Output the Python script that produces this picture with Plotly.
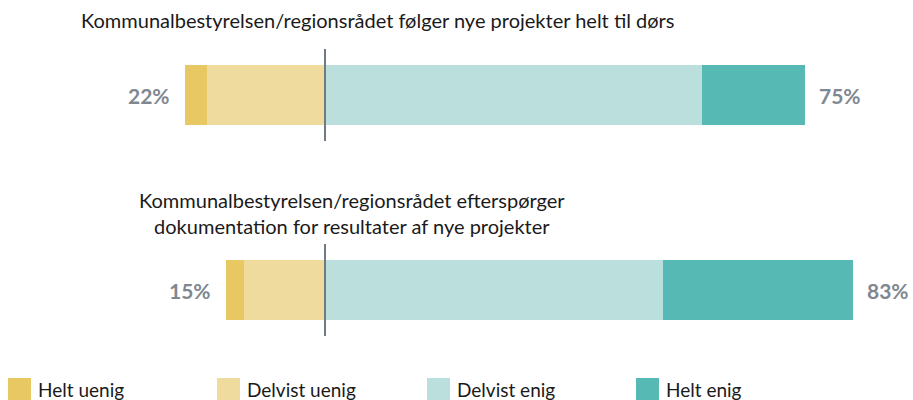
import plotly.graph_objects as go

W, H = 913, 400

questions = [
    "Kommunalbestyrelsen/regionsrådet følger nye projekter helt til dørs",
    "Kommunalbestyrelsen/regionsrådet efterspørger<br>dokumentation for resultater af nye projekter",
]
series_names = ["Helt uenig", "Delvist uenig", "Delvist enig", "Helt enig"]
helt_uenig = [3.5, 2.8]
delvist_uenig = [18.4, 12.6]
delvist_enig = [58.9, 52.8]
helt_enig = [16.1, 29.7]
disagree_labels = ["22%", "15%"]
agree_labels = ["75%", "83%"]

colors = ["#E8C862", "#EFDB9E", "#BBDFDD", "#57B9B3"]
label_color = "#7F8891"
font_family = "Lato, 'Open Sans', sans-serif"

ypos = list(range(len(questions)))

# pixel mapping helpers (margins are zero)
center_px = 325.0
px_per_pct = 6.4
x_range = [-center_px / px_per_pct, (W - center_px) / px_per_pct]
row0_px, row_gap_px = 95.0, 195.0
y_range = [(H - row0_px) / row_gap_px, -row0_px / row_gap_px]
bar_w = 60.0 / row_gap_px

fig = go.Figure()
# negative side: nearest-zero first
fig.add_trace(go.Bar(y=ypos, x=[-v for v in delvist_uenig], orientation="h",
                     marker=dict(color=colors[1], line=dict(width=0)), width=bar_w,
                     name=series_names[1], showlegend=False, hoverinfo="skip"))
fig.add_trace(go.Bar(y=ypos, x=[-v for v in helt_uenig], orientation="h",
                     marker=dict(color=colors[0], line=dict(width=0)), width=bar_w,
                     name=series_names[0], showlegend=False, hoverinfo="skip"))
fig.add_trace(go.Bar(y=ypos, x=delvist_enig, orientation="h",
                     marker=dict(color=colors[2], line=dict(width=0)), width=bar_w,
                     name=series_names[2], showlegend=False, hoverinfo="skip"))
fig.add_trace(go.Bar(y=ypos, x=helt_enig, orientation="h",
                     marker=dict(color=colors[3], line=dict(width=0)), width=bar_w,
                     name=series_names[3], showlegend=False, hoverinfo="skip"))

annotations = []
shapes = []
line_half = 46.0 / row_gap_px
for i, y in enumerate(ypos):
    dis = helt_uenig[i] + delvist_uenig[i]
    agr = delvist_enig[i] + helt_enig[i]
    annotations.append(dict(x=-dis, y=y, xref="x", yref="y", text=disagree_labels[i],
                            showarrow=False, xanchor="right", yanchor="middle", xshift=-13,
                            font=dict(family=font_family, size=21, color=label_color, weight="bold")))
    annotations.append(dict(x=agr, y=y, xref="x", yref="y", text=agree_labels[i],
                            showarrow=False, xanchor="left", yanchor="middle", xshift=12,
                            font=dict(family=font_family, size=21, color=label_color, weight="bold")))
    shapes.append(dict(type="line", xref="x", yref="y", x0=0, x1=0,
                       y0=y - line_half, y1=y + line_half,
                       line=dict(color="#6F7A84", width=2), layer="above"))

# question titles
title_centers_px = [(377, 20), (352, 213)]
for q, (cx, cy) in zip(questions, title_centers_px):
    annotations.append(dict(x=cx / W, y=1 - cy / H, xref="paper", yref="paper", text=q,
                            showarrow=False, xanchor="center", yanchor="middle",
                            font=dict(family=font_family, size=20, color="#1A1A1A")))

# custom legend
legend_x_px = [8, 217, 427, 636]
sq = 23
for name, col, lx in zip(series_names, colors, legend_x_px):
    shapes.append(dict(type="rect", xref="paper", yref="paper",
                       x0=lx / W, x1=(lx + sq) / W, y0=1 - 400 / H, y1=1 - 378 / H,
                       fillcolor=col, line=dict(width=0)))
    annotations.append(dict(x=(lx + sq + 5) / W, y=1 - 389 / H, xref="paper", yref="paper",
                            text=name, showarrow=False, xanchor="left", yanchor="middle",
                            font=dict(family=font_family, size=19, color="#1A1A1A")))

fig.update_layout(
    width=W, height=H,
    margin=dict(l=0, r=0, t=0, b=0),
    barmode="relative",
    bargap=0,
    plot_bgcolor="white", paper_bgcolor="white",
    xaxis=dict(range=x_range, visible=False, fixedrange=True),
    yaxis=dict(range=y_range, visible=False, fixedrange=True),
    annotations=annotations,
    shapes=shapes,
    showlegend=False,
)

fig.write_html("out.html", config={"displayModeBar": False},
               post_script="document.body.style.margin='0px';document.body.style.overflow='hidden';")
